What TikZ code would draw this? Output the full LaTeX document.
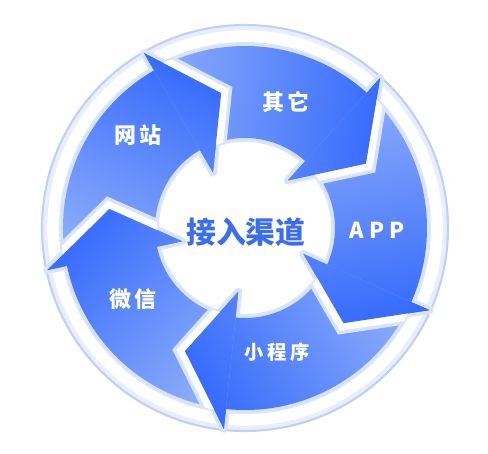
\documentclass[tikz,border=0pt]{standalone}
\usepackage{fontspec}
\newfontfamily\cjk{Noto Sans CJK SC}
\usetikzlibrary{calc}

\definecolor{headblue}{HTML}{386CFC}
\definecolor{tailblue}{HTML}{8AABFA}
\definecolor{haloblue}{HTML}{D8E3FC}
\definecolor{ringblue}{HTML}{BFD0F6}
\definecolor{titleblue}{HTML}{3A6DF0}

% one curved arrow, head barbs at angle #1, tail 72 degrees back
\newcommand{\arrowpath}[1]{(#1+72:182) arc[start angle=#1+72, end angle=#1, radius=182]
  -- (#1:202) -- (#1-20:137) -- (#1:64) -- (#1:90)
  arc[start angle=#1, end angle=#1+72, radius=90] -- cycle}

\tikzset{
  arrowfill/.style={top color=headblue, bottom color=tailblue, shading angle=#1-144},
  segtext/.style={font=\cjk\bfseries\fontsize{12.5}{14}\selectfont, text=white},
}

\begin{document}
\begin{tikzpicture}[x=0.02cm, y=0.02cm]
  \useasboundingbox (-245,-226) rectangle (243,228);

  % Outer ring
  \fill[white] (0,0) circle (203);
  \draw[ringblue!35, line width=2.5pt] (0,0) circle (200);
  \draw[ringblue, line width=1.2pt] (0,0) circle (203);

  % Halo round the arrows
  \foreach \h in {120,48,-24,-96,-168}
    \draw[haloblue, line width=4.5pt, line join=round] \arrowpath{\h};

  % Arrows
  \foreach \h in {120,48,-24,-96,-168}
    \shade[arrowfill=\h] \arrowpath{\h};

  % Gaps in front of the heads
  \begin{scope}[even odd rule]
    \clip (0,0) circle (184) (0,0) circle (88);
    \foreach \h in {120,48,-24,-96,-168} {
      \draw[haloblue, line width=12pt, line join=miter] (\h:202) -- (\h-20:137) -- (\h:64);
      \draw[white, line width=8pt, line join=miter] (\h:202) -- (\h-20:137) -- (\h:64);
    }
  \end{scope}

  % Heads again on top
  \foreach \h in {120,48,-24,-96,-168} {
    \begin{scope}
      \clip (0,0) -- (\h:260) -- (\h-40:260) -- cycle;
      \shade[arrowfill=\h] \arrowpath{\h};
    \end{scope}
  }

  % Labels
  \node[segtext] (web) at (-107,93) {网\hspace{2pt}站};
  \node[segtext] (other) at (41,126) {其\hspace{2pt}它};
  \node[segtext] (app) at (132,-2) {A\hspace{3pt}P\hspace{3pt}P};
  \node[segtext, font=\cjk\bfseries\fontsize{11}{13}\selectfont] (mini) at (32,-124) {小\hspace{2pt}程\hspace{2pt}序};
  \node[segtext] (wechat) at (-112,-71) {微\hspace{2pt}信};

  % Centre title
  \node[font=\cjk\bfseries\fontsize{17}{20}\selectfont, text=titleblue] (title) at (1,-4) {接入渠道};
\end{tikzpicture}
\end{document}
